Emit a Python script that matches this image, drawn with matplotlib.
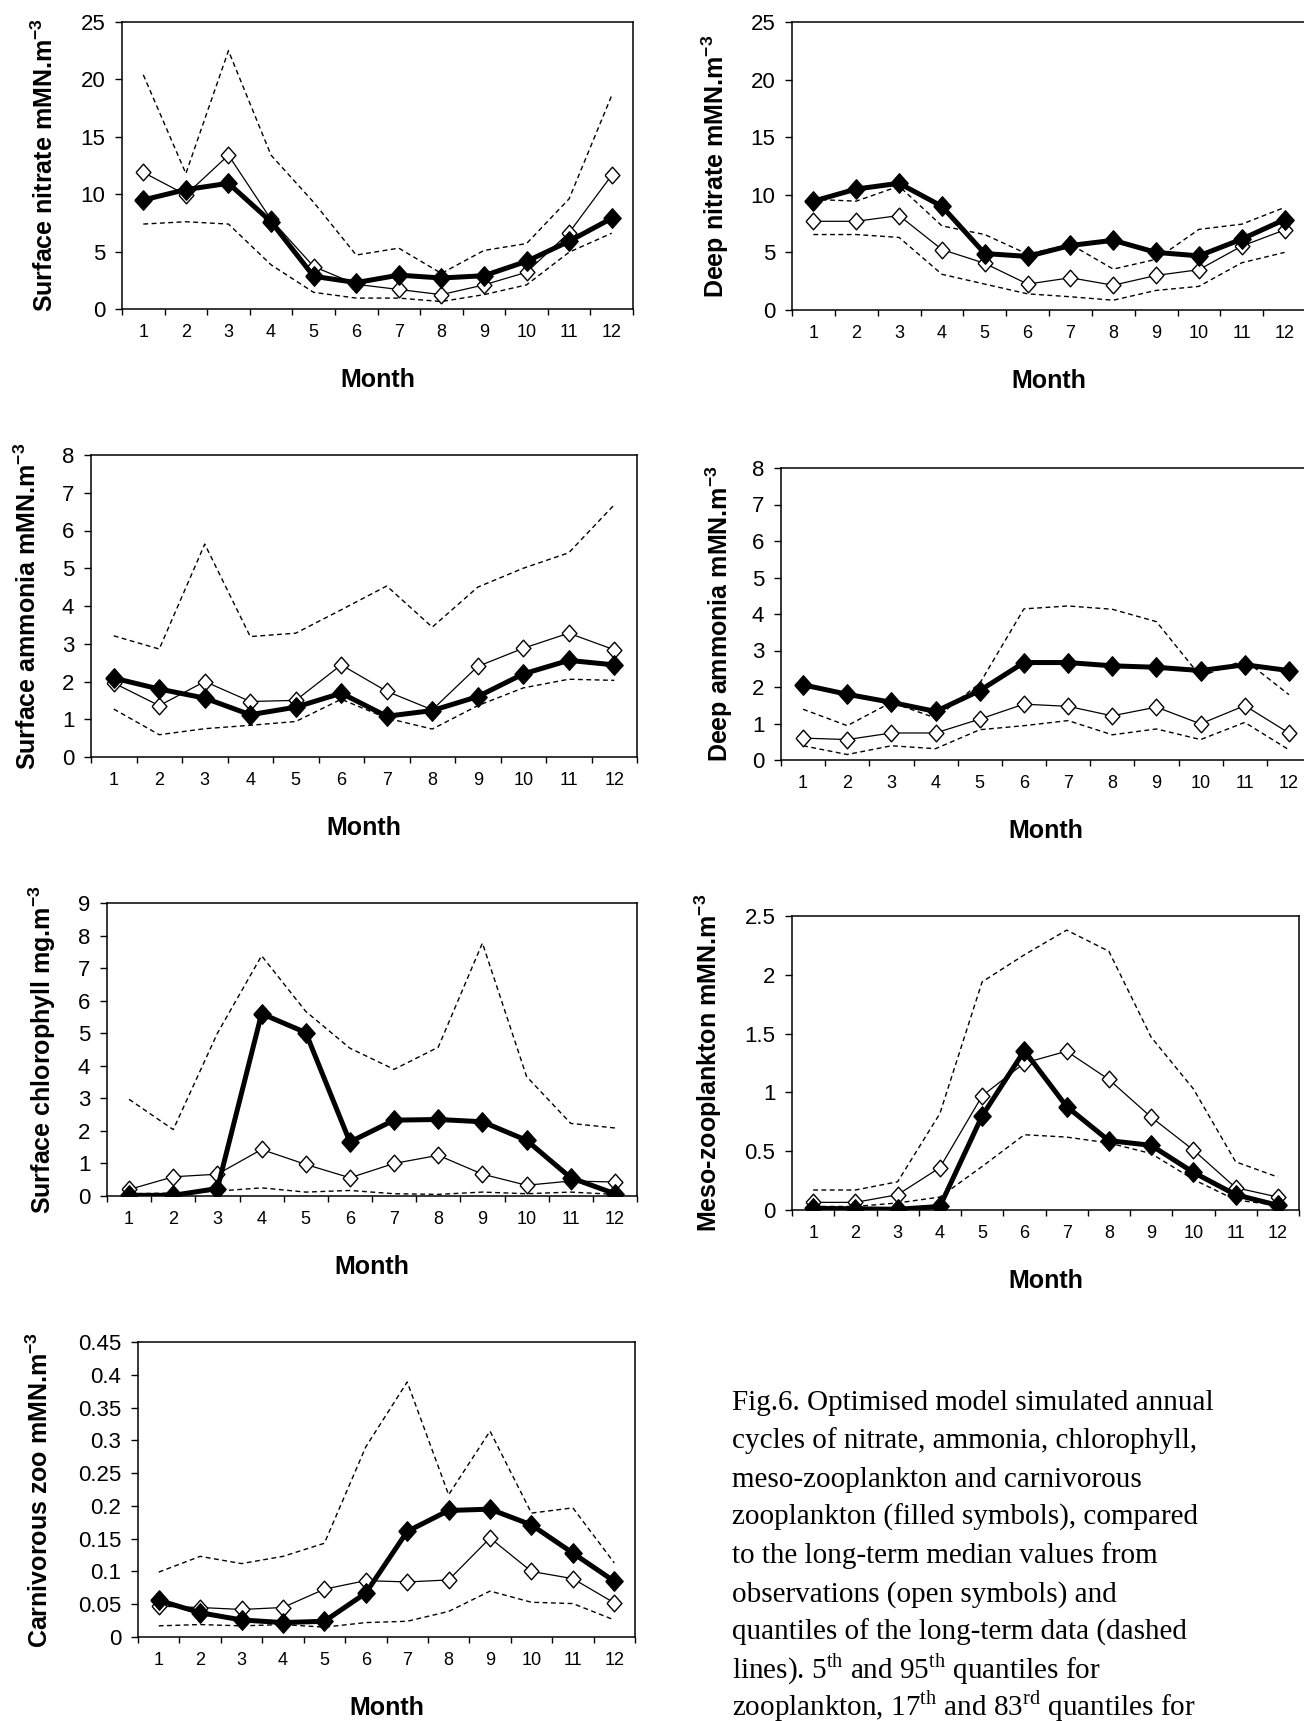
import matplotlib
matplotlib.use('Agg')
import matplotlib.pyplot as plt
import numpy as np
from matplotlib.ticker import FixedLocator, NullFormatter, FixedFormatter

plt.rcParams['font.family'] = ['Liberation Sans', 'DejaVu Sans']
plt.rcParams['mathtext.fontset'] = 'custom'
plt.rcParams['mathtext.rm'] = 'Liberation Serif'
plt.rcParams['mathtext.bf'] = 'Liberation Sans:bold'

# ---------------- data ----------------
months = list(range(1, 13))
month_labels = [str(m) for m in months]

# Surface nitrate
sn_model = [9.5, 10.4, 10.95, 7.6, 2.85, 2.3, 2.95, 2.7, 2.9, 4.15, 5.9, 7.9]
sn_obs = [11.9, 9.95, 13.4, 7.8, 3.7, 2.15, 1.7, 1.25, 2.1, 3.2, 6.65, 11.65]
sn_upper = [20.4, 11.8, 22.5, 13.4, 9.3, 4.7, 5.3, 3.1, 5.1, 5.7, 9.6, 18.6]
sn_lower = [7.4, 7.6, 7.4, 3.85, 1.45, 0.95, 0.95, 0.65, 1.25, 2.1, 4.95, 6.6]

# Deep nitrate
dn_model = [9.45, 10.5, 11.0, 9.0, 4.9, 4.65, 5.6, 6.05, 5.0, 4.7, 6.15, 7.85]
dn_obs = [7.7, 7.7, 8.2, 5.25, 4.05, 2.25, 2.8, 2.15, 3.0, 3.5, 5.55, 6.95]
dn_upper = [9.6, 9.45, 10.75, 7.3, 6.55, 4.85, 5.7, 3.55, 4.4, 7.0, 7.45, 8.9]
dn_lower = [6.55, 6.55, 6.3, 3.1, 2.25, 1.4, 1.15, 0.85, 1.7, 2.05, 4.1, 5.0]

# Surface ammonia
sa_model = [2.09, 1.8, 1.56, 1.12, 1.32, 1.69, 1.08, 1.23, 1.6, 2.2, 2.56, 2.44]
sa_obs = [1.96, 1.36, 2.0, 1.47, 1.5, 2.44, 1.74, 1.25, 2.4, 2.88, 3.28, 2.84]
sa_upper = [3.21, 2.86, 5.64, 3.19, 3.28, 3.9, 4.53, 3.44, 4.5, 5.0, 5.41, 6.68]
sa_lower = [1.27, 0.59, 0.75, 0.84, 0.94, 1.53, 1.03, 0.74, 1.36, 1.83, 2.06, 2.03]

# Deep ammonia
da_model = [2.06, 1.8, 1.58, 1.33, 1.9, 2.67, 2.67, 2.58, 2.54, 2.45, 2.61, 2.45]
da_obs = [0.6, 0.56, 0.74, 0.74, 1.12, 1.53, 1.47, 1.21, 1.45, 0.99, 1.49, 0.74]
da_upper = [1.39, 0.94, 1.58, 1.15, 2.1, 4.14, 4.22, 4.13, 3.79, 2.29, 2.74, 1.79]
da_lower = [0.39, 0.15, 0.39, 0.31, 0.83, 0.94, 1.08, 0.69, 0.85, 0.56, 1.03, 0.28]

# Surface chlorophyll
ch_model = [0.02, 0.02, 0.23, 5.6, 5.02, 1.66, 2.33, 2.35, 2.28, 1.71, 0.56, 0.07]
ch_obs = [0.2, 0.59, 0.67, 1.43, 0.97, 0.56, 1.0, 1.25, 0.67, 0.33, 0.46, 0.43]
ch_upper = [2.97, 2.04, 5.0, 7.38, 5.67, 4.54, 3.89, 4.57, 7.77, 3.67, 2.23, 2.09]
ch_lower = [0.07, 0.09, 0.15, 0.25, 0.12, 0.17, 0.07, 0.05, 0.12, 0.07, 0.12, 0.05]

# Meso-zooplankton
mz_model = [0.014, 0.01, 0.006, 0.03, 0.80, 1.355, 0.88, 0.59, 0.55, 0.32, 0.13, 0.04]
mz_obs = [0.065, 0.065, 0.13, 0.36, 0.97, 1.25, 1.35, 1.11, 0.79, 0.51, 0.19, 0.11]
mz_upper = [0.17, 0.17, 0.24, 0.82, 1.94, 2.17, 2.38, 2.2, 1.47, 1.03, 0.41, 0.28]
mz_lower = [0.03, 0.03, 0.06, 0.11, 0.37, 0.64, 0.62, 0.57, 0.48, 0.26, 0.085, 0.04]

# Carnivorous zooplankton
cz_model = [0.056, 0.037, 0.026, 0.022, 0.024, 0.067, 0.161, 0.193, 0.195, 0.171, 0.128, 0.085]
cz_obs = [0.047, 0.045, 0.042, 0.045, 0.073, 0.086, 0.084, 0.087, 0.151, 0.100, 0.089, 0.052]
cz_upper = [0.099, 0.123, 0.112, 0.123, 0.143, 0.29, 0.389, 0.217, 0.314, 0.189, 0.197, 0.113]
cz_lower = [0.017, 0.019, 0.017, 0.019, 0.015, 0.022, 0.024, 0.039, 0.070, 0.053, 0.051, 0.026]

caption_lines = [
    "Fig.6. Optimised model simulated annual",
    "cycles of nitrate, ammonia, chlorophyll,",
    "meso-zooplankton and carnivorous",
    "zooplankton (filled symbols), compared",
    "to the long-term median values from",
    "observations (open symbols) and",
    "quantiles of the long-term data (dashed",
    "lines). 5$^{\\mathrm{th}}$ and 95$^{\\mathrm{th}}$ quantiles for",
    "zooplankton, 17$^{\\mathrm{th}}$ and 83$^{\\mathrm{rd}}$ quantiles for",
]

# ---------------- figure ----------------
W, H = 1304, 1721
fig = plt.figure(figsize=(W / 100, H / 100), dpi=100)

diamond = [(-0.89, 0), (0, 1), (0.89, 0), (0, -1), (-0.89, 0)]


def add_panel(box, ylim, ystep, ylabel, label_x, model, obs, upper, lower):
    l, t, r, b = box
    ax = fig.add_axes([l / W, 1 - b / H, (r - l) / W, (b - t) / H])
    x = np.array(months)
    dash = (0, (3.5, 2.5))
    ax.plot(x, upper, color='black', lw=1.0, ls=dash, zorder=2)
    ax.plot(x, lower, color='black', lw=1.0, ls=dash, zorder=2)
    ax.plot(x, obs, color='black', lw=0.9, marker=diamond, ms=12,
            mfc='white', mec='black', mew=1.0, zorder=3)
    ax.plot(x, model, color='black', lw=3.6, marker=diamond, ms=14,
            mfc='black', mec='black', mew=1.0, zorder=4)
    ax.set_xlim(0.5, 12.5)
    ax.set_ylim(*ylim)
    ax.xaxis.set_major_locator(FixedLocator(np.arange(0.5, 13.0, 1.0)))
    ax.xaxis.set_major_formatter(NullFormatter())
    ax.xaxis.set_minor_locator(FixedLocator(x))
    ax.xaxis.set_minor_formatter(FixedFormatter(month_labels))
    ax.tick_params(axis='x', which='major', direction='out', length=4.5, width=1.0)
    ax.tick_params(axis='x', which='minor', length=0, pad=11, labelsize=13)
    yt = np.round(np.arange(ylim[0], ylim[1] + ystep / 2, ystep), 4)
    ax.set_yticks(yt)
    ax.set_yticklabels(['%g' % v for v in yt])
    ax.tick_params(axis='y', direction='out', length=5, width=1.0, pad=7, labelsize=16)
    for s in ax.spines.values():
        s.set_linewidth(1.1)
    fig.text(label_x / W, 1 - ((t + b) / 2) / H, ylabel, rotation=90,
             ha='center', va='center', fontsize=18, fontweight='bold')
    fig.text(((l + r) / 2) / W, 1 - (b + 71) / H, 'Month', ha='center',
             va='center', fontsize=18, fontweight='bold')
    return ax


sup = 'mMN.m$^{\\mathbf{-3}}$'
add_panel((122, 22, 633, 309), (0, 25), 5, 'Surface nitrate ' + sup, 45,
          sn_model, sn_obs, sn_upper, sn_lower)
add_panel((792, 22, 1306, 310), (0, 25), 5, 'Deep nitrate ' + sup, 715,
          dn_model, dn_obs, dn_upper, dn_lower)
add_panel((91, 455, 637, 757), (0, 8), 1, 'Surface ammonia ' + sup, 28,
          sa_model, sa_obs, sa_upper, sa_lower)
add_panel((781, 468, 1311, 760), (0, 8), 1, 'Deep ammonia ' + sup, 719,
          da_model, da_obs, da_upper, da_lower)
add_panel((107, 903, 637, 1196), (0, 9), 1, 'Surface chlorophyll mg.m$^{\\mathbf{-3}}$', 42,
          ch_model, ch_obs, ch_upper, ch_lower)
add_panel((792, 916, 1299, 1210), (0, 2.5), 0.5, 'Meso-zooplankton ' + sup, 708,
          mz_model, mz_obs, mz_upper, mz_lower)
add_panel((138, 1342, 635, 1637), (0, 0.45), 0.05, 'Carnivorous zoo ' + sup, 40,
          cz_model, cz_obs, cz_upper, cz_lower)

for i, line in enumerate(caption_lines):
    fig.text(732 / W, 1 - (1410 + 38.3 * i) / H, line, ha='left', va='baseline',
             fontsize=21, family='Liberation Serif')

fig.savefig('out.png', dpi=100)
